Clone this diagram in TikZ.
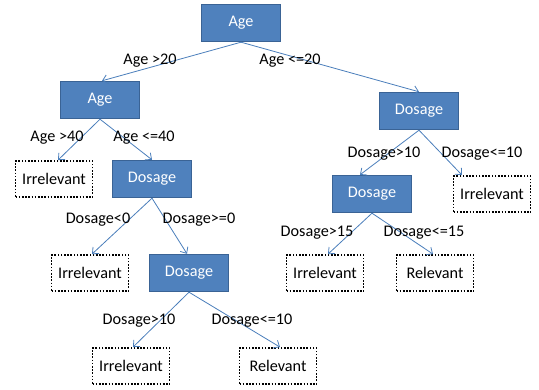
\documentclass[tikz,border=0pt]{standalone}
\usepackage{fontspec}
\setmainfont{Carlito}
\usetikzlibrary{arrows.meta}
\definecolor{boxfill}{HTML}{4F81BD}
\definecolor{boxline}{HTML}{3A6395}
\definecolor{arrowc}{HTML}{4A7EBB}
\begin{document}
\begin{tikzpicture}[x=1pt,y=-1pt,
  every node/.style={font=\fontsize{16.2}{19}\selectfont},
  split/.style={draw=boxline,line width=1.4pt,fill=boxfill,text=white,minimum width=79pt,minimum height=37pt,inner sep=0pt},
  leaf/.style={draw=black,line width=1.8pt,dash pattern=on 1.6pt off 1.6pt,minimum width=77pt,minimum height=36pt,inner sep=0pt},
  lab/.style={inner sep=0pt,text=black},
  edge/.style={draw=arrowc,line width=0.8pt,-{Straight Barb[length=5pt,width=9pt]}}]
\useasboundingbox (0,0) rectangle (539,390);
% split nodes
\node[split] (root) at (241,23) {Age};
\node[split] (ageL) at (100,100) {Age};
\node[split] (dosR1) at (419,111) {Dosage};
\node[split] (dosL2) at (152,179) {Dosage};
\node[split] (dosR2) at (372,194) {Dosage};
\node[split] (dosL3) at (189,273) {Dosage};
% leaves
\node[leaf] (irrA) at (54,179) {Irrelevant};
\node[leaf] (irrR) at (492,194) {Irrelevant};
\node[leaf] (irrB) at (90,273) {Irrelevant};
\node[leaf] (irrR3) at (325,273) {Irrelevant};
\node[leaf] (relR3) at (435,273) {Relevant};
\node[leaf] (irrC) at (131,366) {Irrelevant};
\node[leaf] (relD) at (278,366) {Relevant};
% edges
\draw[edge] (root.south) -- ([xshift=2pt]ageL.north);
\draw[edge] (root.south) -- (dosR1.north);
\draw[edge] (ageL.south) -- ([xshift=4pt]irrA.north);
\draw[edge] (ageL.south) -- (dosL2.north);
\draw[edge] (dosL2.south) -- ([xshift=2pt]irrB.north);
\draw[edge] (dosL2.south) -- ([xshift=-2pt]dosL3.north);
\draw[edge] (dosL3.south) -- ([xshift=2pt]irrC.north);
\draw[edge] (dosL3.south) -- ([xshift=2pt]relD.north);
\draw[edge] (dosR1.south) -- ([xshift=-12pt]dosR2.north);
\draw[edge] (dosR1.south) -- ([xshift=-30pt]irrR.north);
\draw[edge] (dosR2.south) -- ([xshift=3pt]irrR3.north);
\draw[edge] (dosR2.south) -- ([xshift=-2pt]relR3.north);
% labels
\node[lab] (l1) at (150,61) {Age >20};
\node[lab] (l2) at (290,61) {Age <=20};
\node[lab] (l3) at (57,138) {Age >40};
\node[lab] (l4) at (144,138) {Age <=40};
\node[lab] (l5) at (98,220) {Dosage<0};
\node[lab] (l6) at (199,220) {Dosage>=0};
\node[lab] (l7) at (139,321) {Dosage>10};
\node[lab] (l8) at (252,321) {Dosage<=10};
\node[lab] (l9) at (384,154) {Dosage>10};
\node[lab] (l10) at (482,154) {Dosage<=10};
\node[lab] (l11) at (317,233) {Dosage>15};
\node[lab] (l12) at (424,233) {Dosage<=15};
\end{tikzpicture}
\end{document}
